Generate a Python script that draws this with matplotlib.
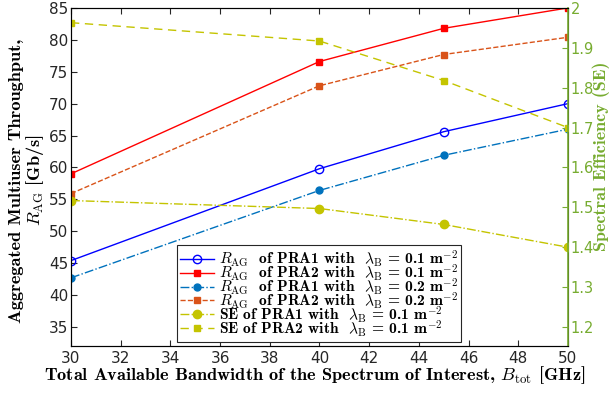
import matplotlib.pyplot as plt
import numpy as np

plt.rcParams['mathtext.fontset'] = 'cm'
plt.rcParams['font.family'] = ['DejaVu Sans']

# data
bw = [30, 40, 45, 50]
rag_pra1_01 = [45.4, 59.8, 65.6, 70.0]
rag_pra2_01 = [59.0, 76.6, 81.8, 85.0]
rag_pra1_02 = [42.7, 56.4, 61.9, 66.0]
rag_pra2_02 = [55.9, 72.8, 77.7, 80.4]
se_pra1_01 = [1.517, 1.497, 1.457, 1.40]
se_pra2_01 = [1.963, 1.917, 1.818, 1.70]

labels = [
    r'$R_{\rm AG}$  of PRA1 with  $\lambda_{\rm B}$ = 0.1 m$^{-2}$',
    r'$R_{\rm AG}$  of PRA2 with  $\lambda_{\rm B}$ = 0.1 m$^{-2}$',
    r'$R_{\rm AG}$  of PRA1 with  $\lambda_{\rm B}$ = 0.2 m$^{-2}$',
    r'$R_{\rm AG}$  of PRA2 with  $\lambda_{\rm B}$ = 0.2 m$^{-2}$',
    r'SE of PRA1 with  $\lambda_{\rm B}$ = 0.1 m$^{-2}$',
    r'SE of PRA2 with  $\lambda_{\rm B}$ = 0.1 m$^{-2}$',
]

serif = 'cmb10'
green = '#77AC30'
yel = '#C4C400'

fig = plt.figure(figsize=(6.12, 3.96), dpi=100)
ax = fig.add_axes([0.116, 0.126, 0.812, 0.854])
ax2 = ax.twinx()

h = []
h += ax.plot(bw, rag_pra1_01, '-', color='#0000FF', marker='o', mfc='none', ms=6, lw=1)
h += ax.plot(bw, rag_pra2_01, '-', color='#FF0000', marker='s', ms=5, lw=1)
h += ax.plot(bw, rag_pra1_02, '-.', color='#0072BD', marker='o', ms=5, lw=1)
h += ax.plot(bw, rag_pra2_02, '--', color='#D95319', marker='s', ms=5, lw=1)
h += ax2.plot(bw, se_pra1_01, '-.', color=yel, marker='o', ms=6, lw=1)
h += ax2.plot(bw, se_pra2_01, '--', color=yel, marker='s', ms=5, lw=1, dashes=(6, 4))

ax.set_xlim(30, 50)
ax.set_ylim(32, 85)
ax2.set_ylim(2 - 53 / 62.5, 2)
ax.set_xticks(np.arange(30, 51, 2))
ax.set_yticks(np.arange(35, 86, 5))
ax2.set_yticks(np.arange(1.2, 2.01, 0.1))
ax2.set_yticklabels(['1.2', '1.3', '1.4', '1.5', '1.6', '1.7', '1.8', '1.9', '2'])

ax.tick_params(direction='in', labelsize=11, top=True, colors='#262626', length=4)
ax.tick_params(axis='y', pad=2)
ax2.tick_params(direction='in', labelsize=10.5, colors=green, length=4, pad=2)
for s in ['left', 'bottom', 'top']:
    ax.spines[s].set_color('#262626')
ax2.spines['right'].set_color(green)
ax2.spines['right'].set_linewidth(1.2)

ax.set_xlabel(r'Total Available Bandwidth of the Spectrum of Interest, $B_{\rm tot}$ [GHz]',
              fontfamily=serif, fontsize=13.2, labelpad=0)
ax.xaxis.set_label_coords(0.49, -0.055)
ax.set_ylabel('Aggregated Multiuser Throughput,\n' + r'$R_{\rm AG}$ [Gb/s]',
              fontfamily=serif, fontsize=13.2, linespacing=1.0)
ax.yaxis.set_label_coords(-0.05, 0.49)
ax2.set_ylabel('Spectral Efficiency (SE)', fontfamily=serif, fontsize=13,
               color=green)
ax2.yaxis.set_label_coords(1.05, 0.56)

leg = ax.legend(h, labels, loc='lower left', bbox_to_anchor=(0.213, 0.013),
                prop={'family': serif, 'size': 11.2}, fancybox=False,
                edgecolor='#262626', framealpha=1, handlelength=2.2,
                borderpad=0.2, labelspacing=-0.45, handletextpad=0.3,
                borderaxespad=0)
leg.get_frame().set_linewidth(0.8)

plt.savefig('out.png', dpi=100)
